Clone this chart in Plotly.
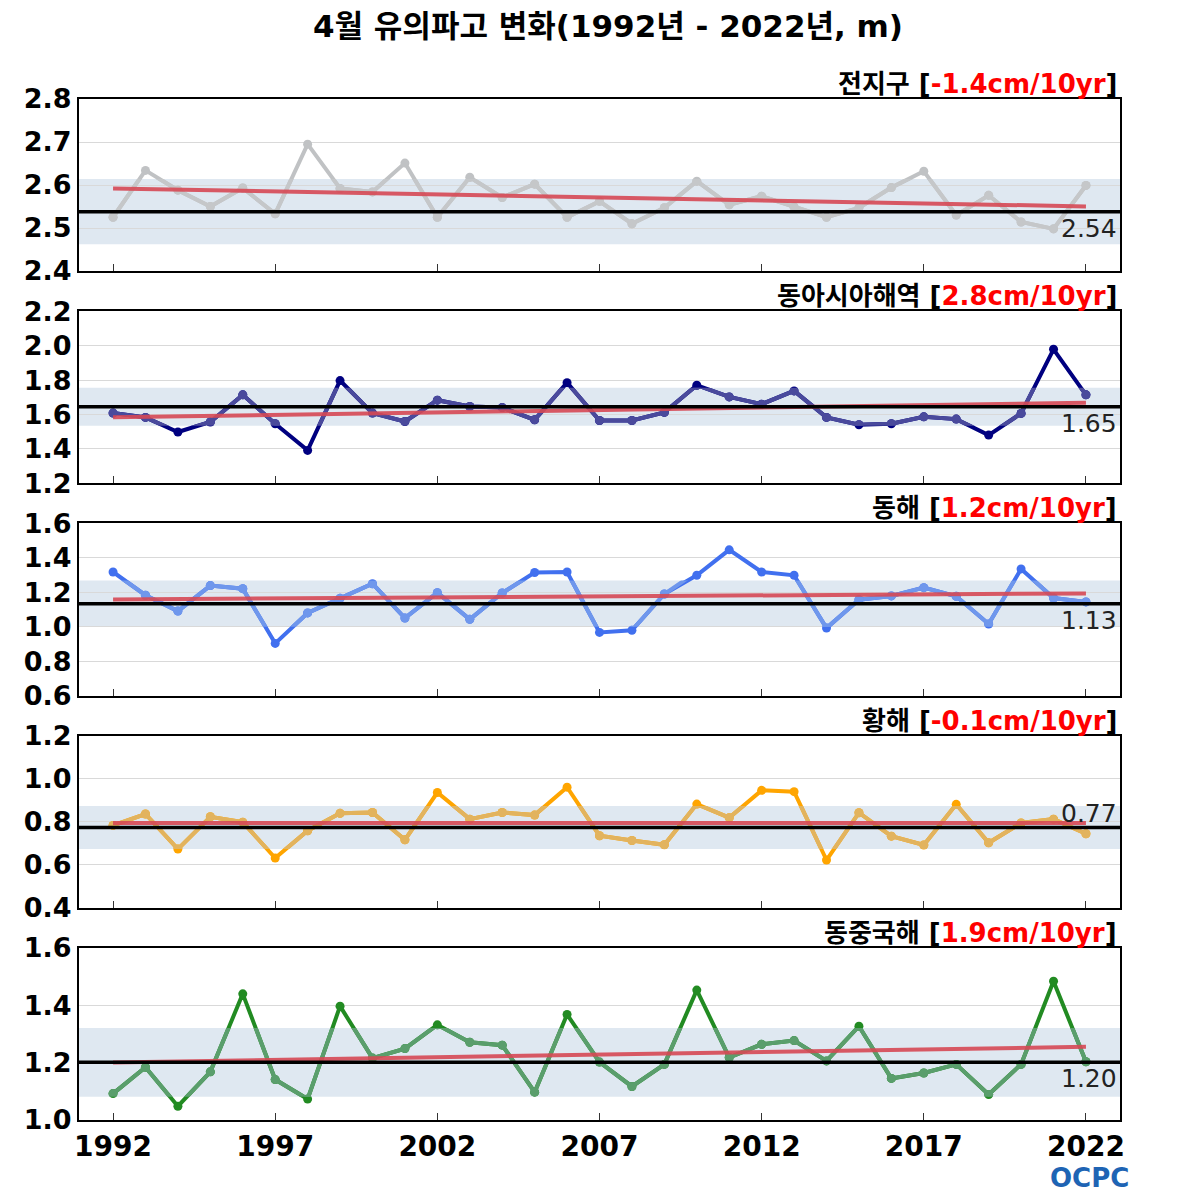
import numpy as np
import plotly.graph_objects as go
from plotly.subplots import make_subplots

# 4월 유의파고 (m), 1992-2022
years = list(range(1992, 2023))

global_swh = [2.525, 2.634, 2.588, 2.550, 2.593, 2.533, 2.695, 2.592, 2.584, 2.651,
              2.525, 2.618, 2.571, 2.602, 2.525, 2.562, 2.510, 2.547, 2.609, 2.554,
              2.574, 2.549, 2.525, 2.547, 2.594, 2.632, 2.530, 2.576, 2.514, 2.498, 2.599]
east_asia_swh = [1.608, 1.583, 1.498, 1.556, 1.714, 1.546, 1.391, 1.797, 1.608, 1.559,
                 1.683, 1.646, 1.640, 1.569, 1.785, 1.565, 1.565, 1.612, 1.770, 1.702,
                 1.660, 1.737, 1.583, 1.540, 1.546, 1.586, 1.573, 1.480, 1.606, 1.979, 1.714]
east_sea_swh = [1.318, 1.183, 1.091, 1.239, 1.221, 0.903, 1.080, 1.165, 1.250, 1.050,
                1.198, 1.043, 1.196, 1.315, 1.318, 0.967, 0.979, 1.190, 1.299, 1.447,
                1.318, 1.299, 0.992, 1.157, 1.179, 1.227, 1.177, 1.016, 1.336, 1.167, 1.144]
yellow_sea_swh = [0.783, 0.836, 0.673, 0.823, 0.798, 0.631, 0.758, 0.839, 0.843, 0.716,
                  0.936, 0.812, 0.843, 0.831, 0.961, 0.735, 0.713, 0.693, 0.882, 0.819,
                  0.946, 0.940, 0.622, 0.842, 0.733, 0.692, 0.881, 0.702, 0.794, 0.812, 0.744]
east_china_sea_swh = [1.092, 1.184, 1.048, 1.168, 1.440, 1.141, 1.073, 1.397, 1.216, 1.249,
                      1.332, 1.271, 1.261, 1.097, 1.368, 1.202, 1.117, 1.194, 1.453, 1.218,
                      1.264, 1.277, 1.206, 1.327, 1.145, 1.164, 1.194, 1.089, 1.194, 1.484, 1.203]

region_names = ['전지구', '동아시아해역', '동해', '황해', '동중국해']
trend_labels = ['-1.4cm/10yr', '2.8cm/10yr', '1.2cm/10yr', '-0.1cm/10yr', '1.9cm/10yr']
clim_mean = [2.538, 1.645, 1.134, 0.773, 1.201]
clim_std = [0.076, 0.110, 0.135, 0.100, 0.120]

y_ranges = [[2.4, 2.8], [1.2, 2.2], [0.6, 1.6], [0.4, 1.2], [1.0, 1.6]]
y_dticks = [0.1, 0.2, 0.2, 0.2, 0.2]

light_colors = ['#c5c7c9', '#4a4a9c', '#6f97ec', '#e2b35e', '#5a9e6c']
dark_colors = ['#c0c2c4', '#000080', '#4170ef', '#ffa500', '#228b22']

series = [global_swh, east_asia_swh, east_sea_swh, yellow_sea_swh, east_china_sea_swh]

fig = make_subplots(rows=5, cols=1, vertical_spacing=0.0394)

tick_font = dict(family='DejaVu Sans, Noto Sans CJK KR', size=27, color='black', weight='bold')

for i, vals in enumerate(series):
    row = i + 1
    sfx = '' if row == 1 else str(row)
    xa = 'x' + sfx
    ya = 'y' + sfx
    band_ax = 5 + row
    lo = clim_mean[i] - clim_std[i]
    hi = clim_mean[i] + clim_std[i]

    # full line in the dark colour (shows outside the +-std band)
    fig.add_trace(go.Scatter(x=years, y=vals, mode='lines+markers',
                             line=dict(color=dark_colors[i], width=4),
                             marker=dict(size=9, color=dark_colors[i]),
                             showlegend=False, hoverinfo='skip'), row=row, col=1)

    # same line in the light colour, clipped to the band via a hidden axis
    d0, d1 = fig.layout['yaxis' + sfx].domain
    r0, r1 = y_ranges[i]
    bd0 = d0 + (lo - r0) / (r1 - r0) * (d1 - d0)
    bd1 = d0 + (hi - r0) / (r1 - r0) * (d1 - d0)
    fig.layout['yaxis' + str(band_ax)] = dict(domain=[bd0, bd1], range=[lo, hi],
                                               anchor=xa, visible=False, fixedrange=True)
    fig.add_trace(go.Scatter(x=years, y=vals, mode='lines+markers',
                             line=dict(color=light_colors[i], width=4),
                             marker=dict(size=9, color=light_colors[i]),
                             xaxis=xa, yaxis='y' + str(band_ax),
                             showlegend=False, hoverinfo='skip'))

    # band
    fig.add_shape(type='rect', xref=xa + ' domain', yref=ya, x0=0, x1=1, y0=lo, y1=hi,
                  fillcolor='#dfe8f1', line_width=0, layer='below')

    # trend
    slope, icpt = np.polyfit(years, vals, 1)
    fig.add_shape(type='line', xref=xa, yref=ya, x0=years[0], x1=years[-1],
                  y0=slope * years[0] + icpt, y1=slope * years[-1] + icpt,
                  line=dict(color='rgba(214,72,84,0.9)', width=4), layer='above')
    # climatological mean
    fig.add_shape(type='line', xref=xa + ' domain', yref=ya, x0=0, x1=1,
                  y0=clim_mean[i], y1=clim_mean[i],
                  line=dict(color='black', width=3.5), layer='above')

    above = (i == 3)
    fig.add_annotation(xref=xa + ' domain', yref=ya, x=1, y=clim_mean[i],
                       xanchor='right', yanchor='bottom' if above else 'top',
                       yshift=-2 if above else 0, xshift=-1,
                       text='%.2f' % clim_mean[i], showarrow=False,
                       font=dict(family='DejaVu Sans', size=25, color='#222'))

    fig.add_annotation(xref=xa + ' domain', yref=ya + ' domain', x=1, y=1,
                       xanchor='right', yanchor='bottom', yshift=-2, xshift=-1,
                       text='<b>%s [<span style="color:red">%s</span>]</b>' % (region_names[i], trend_labels[i]),
                       showarrow=False,
                       font=dict(family='DejaVu Sans, Noto Sans CJK KR', size=26, color='black'))

    fig.update_yaxes(range=y_ranges[i], dtick=y_dticks[i], tickformat='.1f',
                     showgrid=True, gridcolor='#d9d9d9', gridwidth=1,
                     showline=True, linecolor='black', linewidth=2, mirror=True,
                     ticks='', tickfont=tick_font, zeroline=False, row=row, col=1)
    fig.update_xaxes(range=[1990.95, 2023.05], tickvals=years[::5],
                     showgrid=False, showline=True, linecolor='black', linewidth=2, mirror=True,
                     ticks='inside', ticklen=7, tickwidth=1, tickcolor='#333',
                     showticklabels=(row == 5), zeroline=False,
                     tickfont=dict(family='DejaVu Sans', size=28, color='black', weight='bold'),
                     row=row, col=1)

fig.add_annotation(xref='paper', yref='paper', x=0.971, y=-0.0568,
                   xanchor='center', yanchor='middle',
                   text='<b>OCPC</b>', showarrow=False,
                   font=dict(family='DejaVu Sans', size=26, color='#1e64b4'))

fig.update_layout(
    width=1200, height=1200,
    margin=dict(l=71, r=88, t=91, b=88),
    paper_bgcolor='white', plot_bgcolor='rgba(0,0,0,0)',
    title=dict(text='<b>4월 유의파고 변화(1992년 - 2022년, m)</b>', x=0.5, xanchor='center',
               y=0.985, yanchor='middle',
               font=dict(family='DejaVu Sans, Noto Sans CJK KR', size=31, color='black')),
)

fig.write_html("out.html")
